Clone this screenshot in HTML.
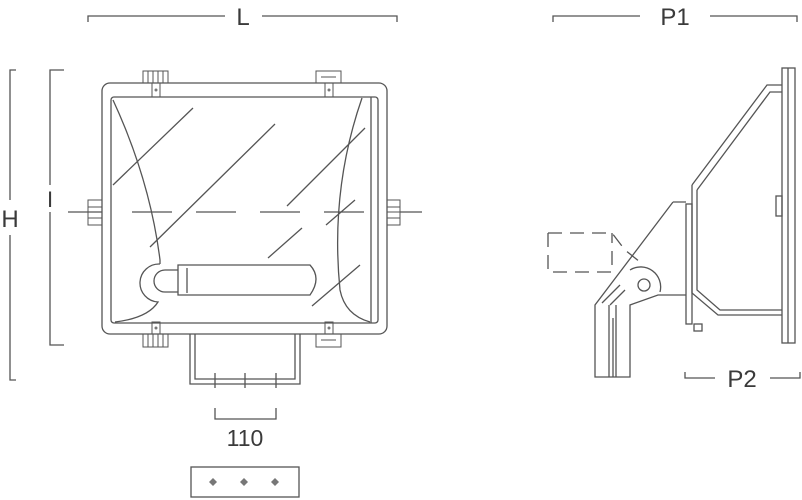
<!DOCTYPE html>
<html><head><style>
html,body{margin:0;padding:0;background:#fff;width:802px;height:500px;overflow:hidden}
svg{display:block}
text{font-family:"Liberation Sans",sans-serif;fill:#3a3a3a}
</style></head><body>
<svg width="802" height="500" viewBox="0 0 802 500" xmlns="http://www.w3.org/2000/svg">
<g fill="none" stroke="#555" stroke-width="1.3">
<path d="M88 22V16H225M262 16H397V22"/>
<path d="M16 70H10V200M10 235V380H16"/>
<path d="M64 70H50V185M50 212V345H64"/>
<rect x="102" y="83" width="285" height="251" rx="8"/>
<rect x="111" y="97" width="267" height="226" rx="3"/>
<path d="M371 97V323"/>
<g stroke-width="1">
<rect x="143" y="71" width="25" height="12"/><path d="M148 71v12M153 71v12M158 71v12M163 71v12"/>
<rect x="152" y="83" width="8" height="14"/>
<rect x="316" y="71" width="25" height="12"/><path d="M321 77h15"/>
<rect x="325" y="83" width="8" height="14"/>
<rect x="143" y="334" width="25" height="13"/><path d="M148 334v13M153 334v13M158 334v13M163 334v13"/>
<rect x="152" y="322" width="8" height="12"/>
<rect x="316" y="334" width="25" height="13"/><path d="M321 340h15"/>
<rect x="325" y="322" width="8" height="12"/>
<rect x="88" y="200" width="14" height="25"/><path d="M88 207h14M88 212h14M88 218h14"/>
<rect x="387" y="200" width="13" height="25"/><path d="M387 207h13M387 212h13M387 218h13"/>
</g>
<path d="M68 212H102"/>
<path d="M132 212H372" stroke-dasharray="40 24"/>
<path d="M400 212H422"/>
<path d="M113 100Q150 180 160 260V264"/>
<path d="M362 98Q330 190 340 290Q345 315 370 322"/>
<path d="M160 264a17 17 0 0 0 -2 38Q148 318 115 322"/>
<path d="M178 265H310Q322 278 310 295H178Z"/>
<path d="M178 270H165a11 11 0 0 0 0 22H178"/>
<path d="M187 268V293"/>
<path d="M113 185L193 108M150 247L275 124M287 206L365 128M268 258L302 228M312 306L360 265M326 225L355 200"/>
<path d="M190 334V384H300V334M195 334V379H295V334"/>
<path d="M215 373V388M245 373V388M276 373V388"/>
<path d="M215 408V419H276V408"/>
<rect x="191" y="467" width="108" height="30"/>
</g>
<g fill="#777">
<path d="M213 478l4 4-4 4-4-4z"/><path d="M244 478l4 4-4 4-4-4z"/><path d="M275 478l4 4-4 4-4-4z"/>
<circle cx="156" cy="90" r="1.5"/><circle cx="329" cy="90" r="1.5"/><circle cx="156" cy="328" r="1.5"/><circle cx="329" cy="328" r="1.5"/>
</g>
<text x="243" y="25" font-size="24" text-anchor="middle">L</text>
<text x="10" y="227" font-size="24" text-anchor="middle">H</text>
<text x="50" y="207" font-size="22" text-anchor="middle">I</text>
<text x="245" y="446" font-size="23" text-anchor="middle">110</text>
<text x="675" y="25" font-size="24" text-anchor="middle">P1</text>
<text x="742" y="387" font-size="24" text-anchor="middle">P2</text>
<g fill="none" stroke="#555" stroke-width="1.3">
<path d="M553 22V16H640M710 16H797V22"/>
<path d="M685 372V378H715M770 378H800V372"/>
<rect x="782" y="68" width="13" height="275"/><path d="M788 68V343"/>
<path d="M692 185L767 85H782M697 190L770 92H782"/>
<path d="M692 185V293L718 315H782M697 190V290L720 310H782"/>
<rect x="686" y="204" width="6" height="120"/>
<path d="M673 202H686M673 202L595 305V377H630V305L658 295H686"/>
<path d="M602 303L620 285M610 305L625 290M609 305V377M616 305V377M613 318V377"/>
<circle cx="644" cy="285" r="6"/>
<path d="M630 270a20 20 0 0 1 30 22"/>
<path d="M548 233H612L625 250L640 262M548 233V272H612V233" stroke-dasharray="14 8"/>
<rect x="776" y="196" width="6" height="20"/>
<rect x="694" y="324" width="8" height="7"/>
</g>
</svg>
</body></html>
